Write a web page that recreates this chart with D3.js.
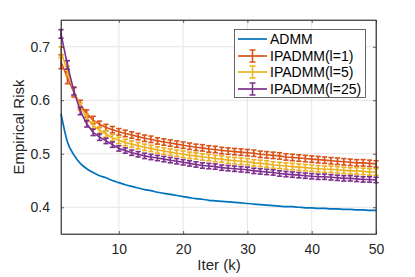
<!DOCTYPE html>
<html>
<head>
<meta charset="utf-8">
<script src="https://cdn.jsdelivr.net/npm/d3@7"></script>
<style>
  body { margin: 0; background: #fff; }
  svg { font-family: "Liberation Sans", Arial, sans-serif; }
</style>
</head>
<body>
<svg id="chart" width="415" height="277"></svg>
<script>
// iterations 1..50
var iters = d3.range(1, 51);

var admm = [0.575,0.522,0.498,0.482,0.472,0.465,0.459,0.455,0.450,0.446,
            0.442,0.439,0.436,0.433,0.431,0.428,0.426,0.424,0.422,0.420,
            0.418,0.416,0.415,0.413,0.412,0.411,0.410,0.409,0.408,0.407,
            0.406,0.405,0.404,0.403,0.402,0.401,0.401,0.400,0.399,0.399,
            0.398,0.398,0.397,0.397,0.396,0.396,0.395,0.395,0.394,0.394];

var ip1 = [0.672,0.642,0.615,0.592,0.575,0.563,0.555,0.549,0.545,0.541,
           0.538,0.535,0.532,0.529,0.527,0.524,0.522,0.520,0.518,0.516,
           0.514,0.512,0.511,0.509,0.508,0.506,0.505,0.504,0.503,0.502,
           0.501,0.499,0.498,0.497,0.496,0.494,0.493,0.492,0.491,0.490,
           0.489,0.488,0.487,0.486,0.485,0.484,0.483,0.483,0.482,0.481];
var ip1Err = [0.013,0.011,0.009,0.008,0.007,0.007,0.006,0.006,0.006,0.006,
              0.006,0.006,0.006,0.006,0.006,0.006,0.006,0.006,0.006,0.006,
              0.006,0.006,0.006,0.006,0.006,0.006,0.006,0.006,0.006,0.006,
              0.006,0.006,0.006,0.006,0.006,0.006,0.006,0.006,0.006,0.006,
              0.006,0.006,0.006,0.006,0.006,0.006,0.006,0.006,0.006,0.006];

var ip5 = [0.690,0.655,0.617,0.588,0.567,0.553,0.544,0.537,0.530,0.525,
           0.521,0.518,0.515,0.512,0.510,0.507,0.505,0.503,0.501,0.499,
           0.497,0.496,0.494,0.493,0.491,0.490,0.488,0.487,0.486,0.485,
           0.483,0.482,0.481,0.479,0.478,0.477,0.476,0.475,0.474,0.473,
           0.472,0.471,0.471,0.470,0.469,0.468,0.468,0.467,0.466,0.466];
var ip5Err = [0.010,0.009,0.008,0.007,0.007,0.006,0.006,0.006,0.006,0.006,
              0.006,0.006,0.006,0.006,0.006,0.006,0.006,0.006,0.006,0.006,
              0.006,0.006,0.006,0.006,0.006,0.006,0.006,0.006,0.006,0.006,
              0.006,0.006,0.006,0.006,0.006,0.006,0.006,0.006,0.006,0.006,
              0.006,0.006,0.006,0.006,0.006,0.006,0.006,0.006,0.006,0.006];

var ip25 = [0.724,0.666,0.617,0.580,0.556,0.540,0.531,0.524,0.517,0.510,
            0.506,0.502,0.499,0.496,0.494,0.492,0.490,0.488,0.486,0.484,
            0.482,0.480,0.478,0.477,0.476,0.474,0.473,0.472,0.471,0.470,
            0.468,0.467,0.466,0.465,0.463,0.462,0.461,0.460,0.459,0.458,
            0.457,0.457,0.456,0.455,0.454,0.454,0.453,0.452,0.452,0.451];
var ip25Err = [0.008,0.008,0.007,0.007,0.006,0.006,0.006,0.005,0.005,0.005,
               0.005,0.005,0.005,0.005,0.005,0.005,0.005,0.005,0.005,0.005,
               0.005,0.005,0.005,0.005,0.005,0.005,0.005,0.005,0.005,0.005,
               0.005,0.005,0.005,0.005,0.005,0.005,0.005,0.005,0.005,0.005,
               0.005,0.005,0.005,0.005,0.005,0.005,0.005,0.005,0.005,0.005];

var xTicks = [10, 20, 30, 40, 50];
var yTicks = [0.4, 0.5, 0.6, 0.7];
var legendNames = ["ADMM", "IPADMM(l=1)", "IPADMM(l=5)", "IPADMM(l=25)"];

var svg = d3.select("#chart");
var plotL = 61, plotR = 376, plotT = 20, plotB = 234;
var ink = "#262626";

var x = d3.scaleLinear().domain([1, 50]).range([plotL, plotR]);
var y = d3.scaleLinear().domain([0.35, 0.75]).range([plotB, plotT]);

// grid
var grid = svg.append("g").attr("stroke", "#e6e6e6").attr("stroke-width", 1);
grid.selectAll("line.gx").data(xTicks).enter().append("line")
  .attr("x1", function(d) { return x(d); }).attr("x2", function(d) { return x(d); })
  .attr("y1", plotT).attr("y2", plotB);
grid.selectAll("line.gy").data(yTicks).enter().append("line")
  .attr("y1", function(d) { return y(d); }).attr("y2", function(d) { return y(d); })
  .attr("x1", plotL).attr("x2", plotR);

// series
var series = [
  { name: legendNames[1], vals: ip1, err: ip1Err, color: "#D95319" },
  { name: legendNames[2], vals: ip5, err: ip5Err, color: "#EDB120" },
  { name: legendNames[3], vals: ip25, err: ip25Err, color: "#7E2F8E" }
];

var line = d3.line()
  .x(function(d, i) { return x(iters[i]); })
  .y(function(d) { return y(d); });

svg.append("path").datum(admm)
  .attr("d", line.curve(d3.curveMonotoneX)).attr("fill", "none")
  .attr("stroke", "#0072BD").attr("stroke-width", 1.7);
line.curve(d3.curveLinear);

var cap = 2.6;
series.forEach(function(s) {
  var g = svg.append("g").attr("stroke", s.color).attr("fill", "none").attr("stroke-width", 1.6);
  g.append("path").datum(s.vals).attr("d", line).attr("stroke-width", 1.6);
  var bars = g.selectAll("g.bar").data(s.vals).enter().append("g");
  bars.append("line")
    .attr("x1", function(d, i) { return x(iters[i]); })
    .attr("x2", function(d, i) { return x(iters[i]); })
    .attr("y1", function(d, i) { return y(d - s.err[i]); })
    .attr("y2", function(d, i) { return y(d + s.err[i]); });
  bars.append("line")
    .attr("x1", function(d, i) { return x(iters[i]) - cap; })
    .attr("x2", function(d, i) { return x(iters[i]) + cap; })
    .attr("y1", function(d, i) { return y(d - s.err[i]); })
    .attr("y2", function(d, i) { return y(d - s.err[i]); });
  bars.append("line")
    .attr("x1", function(d, i) { return x(iters[i]) - cap; })
    .attr("x2", function(d, i) { return x(iters[i]) + cap; })
    .attr("y1", function(d, i) { return y(d + s.err[i]); })
    .attr("y2", function(d, i) { return y(d + s.err[i]); });
});

// axes box
svg.append("rect").attr("x", plotL).attr("y", plotT)
  .attr("width", plotR - plotL).attr("height", plotB - plotT)
  .attr("fill", "none").attr("stroke", ink).attr("stroke-width", 0.7);

svg.append("g").attr("transform", "translate(0," + plotB + ")")
  .call(d3.axisBottom(x).tickValues(xTicks).tickSizeInner(-3).tickSizeOuter(0).tickPadding(10));
svg.append("g").attr("transform", "translate(" + plotL + ",0)")
  .call(d3.axisLeft(y).tickValues(yTicks).tickFormat(d3.format(".1f")).tickSizeInner(-3).tickSizeOuter(0).tickPadding(11));
svg.append("g").attr("transform", "translate(0," + plotT + ")")
  .call(d3.axisTop(x).tickValues(xTicks).tickSizeInner(-3).tickSizeOuter(0).tickFormat(""));
svg.append("g").attr("transform", "translate(" + plotR + ",0)")
  .call(d3.axisRight(y).tickValues(yTicks).tickSizeInner(-3).tickSizeOuter(0).tickFormat(""));

svg.selectAll(".domain").attr("stroke", ink).attr("stroke-width", 0.7);
svg.selectAll(".tick line").attr("stroke", ink).attr("stroke-width", 0.7);
svg.selectAll(".tick text").attr("fill", ink).style("font-size", "14px")
  .style("font-family", "'Liberation Sans', Arial, sans-serif");

// labels
svg.append("text").attr("x", 219).attr("y", 270).attr("text-anchor", "middle")
  .attr("fill", ink).style("font-size", "15px").text("Iter (k)");
svg.append("text").attr("transform", "translate(24,127) rotate(-90)")
  .attr("text-anchor", "middle").attr("fill", ink).style("font-size", "15px")
  .text("Empirical Risk");

// legend
var lg = svg.append("g");
lg.append("rect").attr("x", 234.5).attr("y", 29.5).attr("width", 131).attr("height", 68)
  .attr("fill", "#fff").attr("stroke", ink).attr("stroke-width", 0.7);
var legColors = ["#0072BD", "#D95319", "#EDB120", "#7E2F8E"];
var legY = [39, 56, 72, 89];
legendNames.forEach(function(name, i) {
  var row = lg.append("g").attr("transform", "translate(0," + legY[i] + ")");
  row.append("line").attr("x1", 238).attr("x2", 267).attr("y1", 0).attr("y2", 0)
    .attr("stroke", legColors[i]).attr("stroke-width", 1.7);
  if (i > 0) {
    row.append("line").attr("x1", 252.5).attr("x2", 252.5).attr("y1", -6).attr("y2", 6)
      .attr("stroke", legColors[i]).attr("stroke-width", 1.5);
    row.append("line").attr("x1", 249.5).attr("x2", 255.5).attr("y1", -6).attr("y2", -6)
      .attr("stroke", legColors[i]).attr("stroke-width", 1.5);
    row.append("line").attr("x1", 249.5).attr("x2", 255.5).attr("y1", 6).attr("y2", 6)
      .attr("stroke", legColors[i]).attr("stroke-width", 1.5);
  }
  row.append("text").attr("x", 270).attr("y", 5).attr("fill", "#000")
    .style("font-size", "14px").text(name);
});
</script>
</body>
</html>
